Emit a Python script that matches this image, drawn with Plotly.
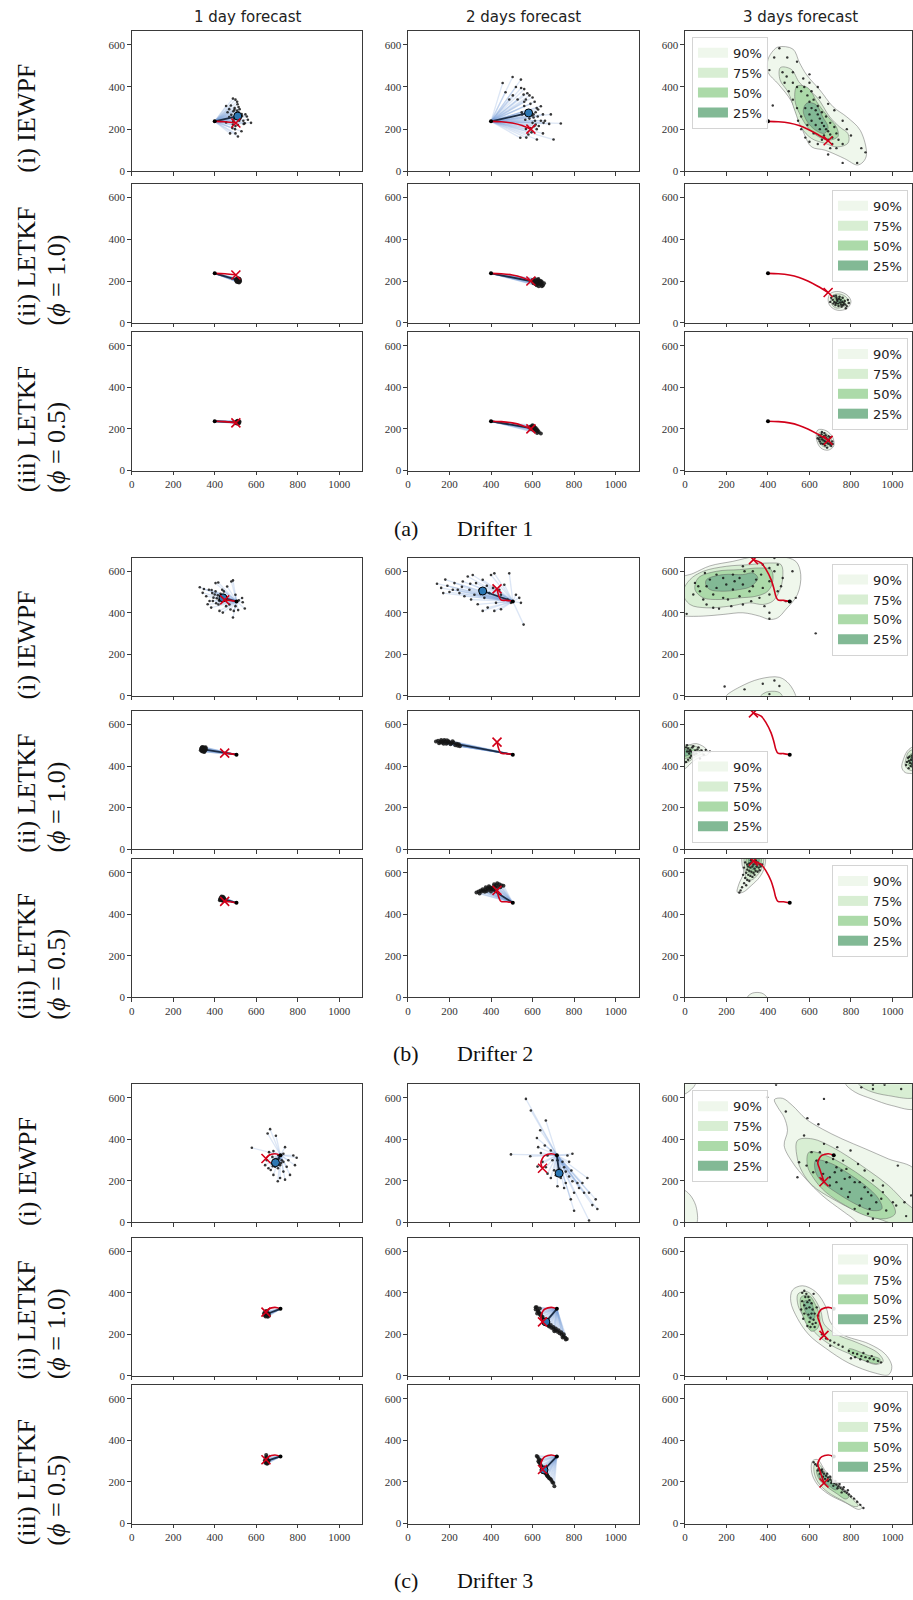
import plotly.graph_objects as go

W, H = 913, 1600

# ---------------- text ----------------
COL_TITLES = ["1 day forecast", "2 days forecast", "3 days forecast"]
ROW_LABELS = [("(i) IEWPF", None),
              ("(ii) LETKF", "(<i>ϕ</i> = 1.0)"),
              ("(iii) LETKF", "(<i>ϕ</i> = 0.5)")]
GROUP_TAGS = ["(a)", "(b)", "(c)"]
GROUP_NAMES = ["Drifter 1", "Drifter 2", "Drifter 3"]
LEVELS = ["90%", "75%", "50%", "25%"]
LEVEL_COLORS = ["#eff7ec", "#d8eed3", "#acdaa9", "#82b995"]
X_TICKS = [0, 200, 400, 600, 800, 1000]
Y_TICKS = [0, 200, 400, 600]

# ---------------- drifter 1 ----------------
D1_START = (400, 237)
D1_TRUTH = [(400, 237), (450, 235), (502, 229), (550, 217), (592, 200), (640, 175), (690, 145)]
D1_TRUTH_DAY_END = [2, 4, 6]

D1_IEWPF_DAY1 = [(488, 345), (500, 340), (508, 330), (478, 312), (455, 310), (470, 295), (520, 295), (462, 280),
                 (490, 285), (505, 278), (530, 272), (548, 270), (555, 260), (560, 245), (518, 240), (490, 238),
                 (540, 225), (488, 222), (500, 215), (512, 220), (545, 228), (485, 205), (498, 200), (455, 232),
                 (470, 258), (496, 300), (515, 305), (510, 318), (525, 255), (532, 262), (503, 265), (493, 250),
                 (515, 280), (538, 240), (480, 268), (508, 288), (522, 248), (500, 180), (529, 190), (474, 180),
                 (512, 165), (575, 230), (506, 258), (520, 268), (495, 292)]
D1_IEWPF_MEAN1 = (511, 262)
D1_IEWPF_DAY2 = [(456, 419), (504, 447), (544, 435), (557, 364), (568, 341), (627, 293), (640, 309), (688, 270),
                 (736, 227), (701, 151), (621, 151), (541, 159), (568, 201), (608, 214), (653, 230), (528, 341),
                 (488, 341), (470, 375), (520, 400), (545, 395), (505, 360), (560, 390), (575, 370), (585, 360),
                 (600, 350), (610, 330), (590, 320), (560, 310), (575, 290), (620, 300), (650, 270), (625, 260),
                 (605, 255), (585, 250), (565, 245), (550, 270), (600, 230), (615, 222), (630, 215), (660, 240),
                 (680, 225), (650, 180), (620, 200), (595, 185), (580, 175), (570, 160), (590, 205), (605, 270),
                 (615, 280), (580, 280), (560, 330), (640, 240), (598, 265), (612, 240), (548, 280)]
D1_IEWPF_MEAN2 = (581, 277)
D1_IEWPF_DAY3 = [(455, 584), (493, 540), (540, 520), (423, 312), (407, 480), (430, 540), (470, 470), (520, 470),
                 (850, 110), (830, 40), (870, 90), (760, 40), (690, 80), (560, 380), (575, 400), (590, 360),
                 (600, 330), (610, 300), (630, 290), (640, 270), (650, 250), (660, 230), (670, 215), (680, 200),
                 (690, 190), (700, 175), (710, 160), (620, 340), (600, 270), (580, 300), (640, 310), (660, 280),
                 (680, 260), (700, 230), (720, 210), (650, 200), (630, 220), (610, 240), (670, 170), (690, 150),
                 (730, 180), (740, 150), (710, 130), (660, 150), (620, 180), (590, 220), (560, 260), (540, 300),
                 (520, 340), (540, 400), (520, 420), (570, 440), (600, 420), (610, 380), (650, 350), (690, 320),
                 (720, 290), (760, 240), (780, 200), (800, 170), (760, 130), (730, 110), (700, 110), (640, 130),
                 (600, 140), (580, 160), (560, 200), (545, 240), (500, 380), (480, 420), (490, 450), (600, 460),
                 (640, 400)]
D1_IEWPF_KDE = [
    [[(450, 590), (520, 580), (552, 515), (586, 458), (650, 386), (714, 306), (780, 258), (845, 194), (875, 80),
      (858, 44), (830, 30), (770, 60), (676, 100), (610, 116), (576, 174), (545, 254), (512, 334), (450, 414),
      (400, 470), (400, 530), (425, 572)]],
    [[(460, 492), (512, 484), (554, 418), (634, 354), (698, 258), (746, 210), (786, 178), (786, 134), (734, 116),
      (676, 132), (610, 156), (562, 206), (530, 286), (498, 374), (458, 434)]],
    [[(540, 404), (592, 396), (640, 322), (690, 258), (730, 210), (738, 166), (694, 148), (644, 164), (594, 206),
      (554, 270), (530, 336)]],
    [[(588, 324), (632, 316), (664, 258), (690, 208), (672, 180), (628, 196), (588, 238), (570, 288)]],
]

D1_LETKF10_DAY1 = [(505, 200), (510, 198), (515, 205), (520, 207), (508, 210), (512, 195), (518, 200), (502, 205),
                   (514, 212), (522, 198), (507, 204), (516, 196), (511, 208), (519, 211), (506, 197), (513, 201),
                   (521, 204), (509, 213), (504, 209), (517, 193)]
D1_LETKF10_MEAN1 = (512, 204)
D1_LETKF10_DAY2 = [(600, 205), (610, 200), (620, 195), (630, 190), (640, 185), (625, 205), (615, 185), (635, 200),
                   (645, 195), (605, 190), (650, 180), (620, 180), (630, 175), (640, 200), (612, 210), (625, 192),
                   (633, 187), (618, 198), (645, 175), (655, 190), (602, 198), (628, 210), (638, 192)]
D1_LETKF10_MEAN2 = (626, 193)
D1_LETKF10_DAY3 = [(705, 120), (712, 110), (720, 100), (728, 95), (735, 105), (742, 115), (750, 110), (758, 100),
                   (765, 95), (772, 88), (780, 80), (760, 120), (745, 125), (730, 120), (718, 128), (725, 85),
                   (740, 80), (755, 78), (770, 105), (785, 110), (700, 100), (738, 92), (748, 98), (762, 85),
                   (732, 112), (752, 88), (715, 92), (775, 70), (790, 95), (728, 130)]
D1_LETKF10_KDE = [
    [[(700, 140), (740, 150), (785, 130), (800, 100), (780, 68), (735, 60), (700, 80), (690, 110)]],
    [[(710, 130), (745, 138), (780, 120), (785, 95), (760, 75), (725, 72), (705, 95)]],
    [[(720, 120), (750, 125), (772, 105), (765, 88), (735, 82), (718, 100)]],
    [[(732, 112), (752, 114), (762, 100), (745, 92), (728, 98)]],
]

D1_LETKF05_DAY1 = [(505, 230), (510, 228), (515, 233), (508, 236), (513, 238), (503, 234), (518, 229), (511, 232),
                   (506, 226), (516, 237), (509, 240), (514, 226), (520, 234), (502, 229), (512, 235)]
D1_LETKF05_MEAN1 = (510, 232)
D1_LETKF05_DAY2 = [(590, 210), (595, 205), (600, 200), (605, 208), (610, 202), (598, 214), (603, 196), (612, 195),
                   (618, 190), (608, 212), (593, 200), (615, 205), (620, 198), (625, 192), (630, 185), (600, 218),
                   (588, 204), (606, 204), (622, 180), (640, 178)]
D1_LETKF05_MEAN2 = (605, 202)
D1_LETKF05_DAY3 = [(645, 170), (652, 160), (660, 150), (668, 145), (675, 140), (682, 135), (690, 130), (698, 125),
                   (705, 118), (658, 175), (670, 165), (680, 158), (688, 150), (695, 142), (665, 128), (650, 140),
                   (640, 155), (700, 160), (710, 140), (675, 120), (685, 110), (660, 185), (672, 180), (655, 130),
                   (692, 165), (678, 170), (646, 150), (702, 132), (712, 128), (663, 160)]
D1_LETKF05_KDE = [
    [[(640, 195), (680, 192), (712, 160), (717, 118), (690, 98), (655, 108), (634, 150)]],
    [[(648, 182), (680, 178), (703, 155), (706, 125), (685, 111), (660, 120), (642, 150)]],
    [[(655, 170), (682, 166), (696, 145), (692, 125), (670, 122), (652, 145)]],
    [[(662, 158), (680, 155), (688, 140), (675, 130), (660, 140)]],
]

# ---------------- drifter 2 ----------------
D2_START = (505, 455)
D2_TRUTH = [(505, 455), (475, 460), (448, 462), (438, 480), (429, 515), (415, 560), (391, 608), (367, 640), (330, 656)]
D2_TRUTH_DAY_END = [2, 4, 8]

D2_IEWPF_DAY1 = [(328, 523), (348, 515), (372, 511), (404, 543), (417, 546), (480, 551), (488, 556), (436, 511),
                 (460, 527), (500, 487), (532, 471), (545, 421), (535, 451), (492, 409), (488, 377), (383, 425),
                 (423, 409), (407, 446), (375, 457), (394, 473), (415, 484), (439, 464), (455, 432), (471, 440),
                 (359, 480), (388, 495), (428, 492), (476, 416), (439, 401), (500, 432), (516, 460), (404, 503),
                 (444, 503), (391, 457), (423, 457), (342, 496), (513, 413), (366, 441), (410, 470), (430, 478),
                 (420, 462), (452, 470), (400, 488), (445, 485), (418, 440), (385, 510)]
D2_IEWPF_MEAN1 = (440, 472)
D2_IEWPF_DAY2 = [(224, 543), (240, 511), (264, 551), (288, 575), (312, 582), (328, 543), (360, 559), (400, 582),
                 (416, 590), (488, 590), (464, 535), (440, 511), (392, 495), (368, 472), (336, 441), (360, 409),
                 (384, 425), (424, 448), (480, 464), (520, 487), (536, 472), (544, 448), (304, 464), (272, 480),
                 (248, 495), (216, 511), (296, 511), (344, 511), (320, 487), (448, 487), (496, 448), (557, 343),
                 (416, 409), (448, 417), (140, 540), (160, 520), (180, 560), (200, 500), (190, 530), (170, 495),
                 (260, 525), (380, 530), (300, 540), (350, 490), (410, 520)]
D2_IEWPF_MEAN2 = (360, 505)
D2_IEWPF_DAY3 = [(8, 395), (48, 544), (96, 592), (120, 560), (72, 504), (88, 464), (136, 424), (164, 420),
                 (207, 464), (152, 520), (199, 536), (239, 552), (287, 600), (327, 600), (367, 584), (407, 616),
                 (447, 632), (431, 664), (471, 568), (463, 528), (407, 488), (383, 432), (407, 400), (359, 472),
                 (311, 504), (263, 480), (184, 472), (231, 512), (279, 536), (327, 528), (263, 568), (343, 560),
                 (375, 520), (136, 488), (104, 528), (64, 528), (184, 568), (231, 584), (152, 584), (407, 552),
                 (447, 504), (534, 472), (486, 456), (407, 371), (431, 600), (518, 600), (279, 440), (319, 456),
                 (223, 432), (104, 440), (40, 488), (279, 624), (375, 632), (191, 45), (287, 31), (375, 58),
                 (431, 74), (455, 47), (407, 8), (630, 301)]
D2_IEWPF_KDE = [
    [[(-30, 390), (-30, 560), (40, 590), (120, 626), (231, 648), (343, 672), (455, 672), (534, 648), (558, 584),
      (542, 488), (486, 416), (447, 376), (407, 368), (359, 384), (279, 400), (184, 392), (88, 384), (0, 384)],
     [(199, -10), (199, 0), (263, 42), (359, 81), (455, 89), (502, 57), (534, 0), (534, -10)]],
    [[(24, 560), (88, 600), (199, 624), (311, 632), (407, 640), (463, 632), (471, 568), (455, 504), (423, 456),
      (375, 440), (311, 448), (215, 432), (104, 424), (24, 440), (-10, 496)],
     [(359, -10), (380, 12), (407, 21), (455, 16), (471, -10)]],
    [[(64, 568), (152, 600), (263, 608), (359, 616), (415, 608), (423, 552), (399, 504), (343, 480), (263, 472),
      (168, 464), (88, 472), (48, 512)]],
    [[(104, 560), (184, 584), (279, 584), (327, 592), (351, 568), (319, 528), (263, 512), (184, 504), (120, 512),
      (100, 536)]],
]

D2_LETKF10_DAY1 = [(335, 485), (340, 478), (345, 490), (350, 482), (355, 475), (338, 472), (348, 470), (342, 486),
                   (352, 488), (336, 480), (344, 476), (358, 482), (340, 492), (350, 468), (346, 484), (333, 476),
                   (356, 490), (341, 470), (349, 478), (337, 488)]
D2_LETKF10_MEAN1 = (345, 480)
D2_LETKF10_DAY2 = [(135, 518), (145, 522), (155, 515), (160, 525), (170, 520), (180, 518), (190, 512), (200, 515),
                   (210, 510), (220, 513), (235, 508), (245, 505), (150, 510), (165, 512), (175, 525), (185, 507),
                   (195, 520), (205, 505), (215, 520), (228, 500), (240, 498), (158, 518), (172, 508), (188, 524),
                   (250, 495)]
D2_LETKF10_MEAN2 = (185, 515)
D2_LETKF10_DAY3 = [(5, 490), (15, 485), (25, 478), (30, 470), (40, 465), (20, 460), (10, 470), (50, 475), (35, 490),
                   (60, 480), (70, 470), (45, 455), (25, 440), (15, 430), (5, 420), (55, 460), (80, 475), (120, 470),
                   (90, 455), (30, 450), (10, 500), (40, 495), (65, 490), (20, 470), (72, 436), (100, 478),
                   (1075, 440), (1080, 425), (1085, 415), (1090, 430), (1095, 410), (1070, 420), (1088, 400),
                   (1098, 395), (1082, 445), (1093, 450), (1066, 405), (1100, 425), (1078, 390), (1096, 440)]
D2_LETKF10_KDE = [
    [[(-20, 500), (0, 497), (56, 508), (104, 481), (112, 457), (72, 444), (32, 417), (8, 393), (-20, 380)],
     [(1120, 495), (1091, 489), (1070, 470), (1053, 433), (1045, 393), (1061, 369), (1091, 364), (1120, 364)]],
    [[(-20, 495), (30, 500), (70, 485), (85, 462), (50, 445), (15, 420), (-20, 410)],
     [(1120, 480), (1080, 470), (1065, 435), (1062, 400), (1085, 380), (1120, 380)]],
    [[(-20, 485), (25, 488), (55, 470), (40, 452), (0, 435), (-20, 430)],
     [(1120, 465), (1085, 455), (1075, 425), (1082, 400), (1120, 398)]],
    [[(-20, 475), (20, 478), (35, 463), (10, 450), (-20, 448)],
     [(1120, 450), (1090, 440), (1088, 420), (1120, 415)]],
]

D2_LETKF05_DAY1 = [(428, 470), (432, 475), (438, 478), (442, 472), (436, 466), (430, 480), (440, 484), (445, 476),
                   (426, 474), (434, 470), (439, 468), (444, 480), (431, 477), (437, 482), (441, 465), (448, 470),
                   (425, 468), (433, 485)]
D2_LETKF05_MEAN1 = (436, 474)
D2_LETKF05_DAY2 = [(330, 505), (345, 500), (355, 510), (365, 515), (375, 520), (385, 525), (395, 530), (405, 528),
                   (415, 535), (425, 540), (440, 545), (450, 540), (460, 538), (380, 512), (390, 518), (400, 522),
                   (410, 520), (420, 530), (435, 530), (370, 508), (360, 520), (350, 515), (400, 510), (415, 545),
                   (430, 550), (445, 530), (390, 535), (375, 530), (340, 510), (420, 515)]
D2_LETKF05_MEAN2 = (400, 522)
D2_LETKF05_DAY3 = [(290, 650), (300, 640), (310, 645), (320, 650), (330, 640), (340, 645), (350, 650), (360, 640),
                   (305, 630), (315, 625), (325, 630), (335, 620), (345, 630), (355, 625), (365, 630), (300, 615),
                   (310, 610), (320, 605), (330, 600), (340, 610), (350, 605), (295, 600), (305, 590), (315, 585),
                   (325, 580), (335, 590), (290, 575), (300, 565), (310, 560), (285, 550), (295, 540), (275, 530),
                   (268, 515), (262, 505), (280, 590), (360, 612), (372, 640), (318, 660), (342, 658), (284, 625)]
D2_LETKF05_KDE = [
    [[(279, 680), (383, 680), (383, 626), (359, 578), (319, 538), (279, 506), (252, 506), (260, 546), (283, 602),
      (275, 640)],
     [(300, -10), (300, 0), (325, 20), (370, 20), (395, 0), (395, -10)]],
    [[(290, 680), (375, 680), (372, 625), (350, 590), (320, 565), (295, 575), (290, 610)]],
    [[(300, 680), (365, 680), (360, 625), (340, 600), (315, 595), (300, 620)]],
    [[(310, 680), (355, 680), (350, 630), (330, 615), (312, 628)]],
]

# ---------------- drifter 3 ----------------
D3_START = (717, 323)
D3_TRUTH = [(717, 323), (690, 330), (660, 322), (647, 307), (640, 285), (648, 260), (660, 225), (670, 195)]
D3_TRUTH_DAY_END = [3, 5, 7]

D3_IEWPF_DAY1 = [(667, 449), (655, 428), (695, 417), (579, 359), (662, 338), (739, 362), (779, 322), (795, 311),
                 (787, 275), (747, 267), (731, 244), (763, 228), (739, 205), (704, 197), (683, 228), (659, 260),
                 (651, 299), (678, 315), (707, 323), (723, 299), (715, 275), (691, 267), (675, 283), (699, 291),
                 (710, 307), (688, 302), (731, 291), (670, 252), (643, 275), (731, 330), (755, 299), (715, 213),
                 (683, 343), (700, 280), (685, 290), (705, 260), (720, 285), (695, 305), (680, 270)]
D3_IEWPF_MEAN1 = (693, 287)
D3_IEWPF_DAY2 = [(568, 595), (592, 539), (664, 491), (637, 444), (621, 406), (496, 327), (589, 318), (627, 362),
                 (659, 370), (688, 346), (640, 334), (672, 322), (648, 291), (624, 268), (664, 265), (696, 299),
                 (720, 299), (744, 291), (768, 322), (792, 330), (776, 291), (760, 244), (787, 249), (736, 213),
                 (760, 189), (792, 197), (816, 189), (840, 189), (864, 213), (824, 165), (800, 142), (752, 165),
                 (784, 110), (848, 142), (872, 142), (904, 110), (888, 82), (912, 63), (800, 55), (872, 8),
                 (704, 250), (712, 226), (688, 213), (728, 258), (752, 265), (776, 220), (720, 173), (672, 234)]
D3_IEWPF_MEAN2 = (728, 236)
D3_IEWPF_DAY3 = [(439, 663), (396, 603), (486, 534), (590, 502), (643, 473), (574, 418), (550, 289), (542, 217),
                 (670, 595), (670, 378), (734, 362), (798, 346), (714, 305), (754, 249), (730, 265), (778, 257),
                 (794, 217), (818, 193), (866, 168), (866, 249), (906, 201), (954, 177), (954, 145), (946, 113),
                 (1002, 96), (1018, 80), (1058, 96), (1066, 29), (1026, 273), (1090, 129), (850, 113), (842, 80),
                 (890, 64), (818, 64), (794, 145), (754, 161), (730, 193), (698, 217), (666, 233), (682, 289),
                 (634, 297), (610, 338), (650, 338), (762, 297), (834, 281), (882, 145), (922, 96), (970, 56),
                 (906, 16), (882, 40), (850, 651), (906, 643), (962, 663), (1042, 643), (906, 663), (722, 241),
                 (770, 209), (842, 193), (898, 129), (786, 121), (698, 177), (658, 209), (618, 241), (586, 273)]
D3_IEWPF_KDE = [
    [[(431, 592), (470, 598), (518, 563), (582, 499), (661, 450), (757, 402), (869, 354), (981, 305), (1110, 250),
      (1110, -10), (850, -10), (800, 25), (757, 56), (661, 129), (582, 209), (518, 289), (478, 370), (494, 442),
      (478, 506), (447, 555)],
     [(774, 690), (774, 667), (821, 627), (901, 595), (997, 563), (1110, 550), (1110, 690)],
     [(-20, 160), (0, 153), (32, 121), (56, 64), (53, -10), (-20, -10)],
     [(-20, 690), (55, 690), (48, 662), (24, 635), (0, 619), (-20, 615)]],
    [[(542, 394), (614, 402), (710, 362), (790, 314), (885, 249), (981, 177), (1061, 96), (1110, 50), (1110, -10),
      (1013, -10), (933, 16), (837, 48), (710, 113), (614, 177), (566, 241), (542, 305)],
     [(837, 690), (837, 667), (885, 635), (981, 611), (1110, 605), (1110, 690)]],
    [[(598, 338), (678, 322), (774, 273), (869, 209), (949, 145), (1005, 80), (1013, 40), (965, 16), (869, 32),
      (774, 80), (678, 145), (622, 209), (590, 273)]],
    [[(630, 298), (710, 281), (790, 233), (869, 177), (933, 113), (949, 64), (901, 56), (821, 88), (726, 145),
      (662, 193), (630, 241)]],
]

D3_LETKF10_DAY1 = [(642, 300), (646, 292), (650, 298), (655, 302), (658, 295), (648, 306), (652, 288), (644, 310),
                   (656, 285), (640, 293), (660, 300), (650, 312), (645, 286), (654, 295), (662, 290), (638, 302)]
D3_LETKF10_MEAN1 = (651, 298)
D3_LETKF10_DAY2 = [(620, 330), (615, 320), (625, 315), (630, 305), (622, 300), (635, 295), (640, 290), (645, 280),
                   (650, 275), (655, 268), (660, 262), (665, 255), (670, 250), (675, 243), (680, 238), (690, 232),
                   (700, 226), (710, 220), (720, 212), (730, 205), (740, 198), (750, 190), (758, 183), (765, 178),
                   (648, 285), (662, 270), (675, 258), (688, 245), (700, 235), (712, 228), (725, 220), (738, 210),
                   (750, 200), (628, 310), (640, 298), (705, 215), (745, 185), (760, 175), (615, 330), (635, 325)]
D3_LETKF10_MEAN2 = (664, 260)
D3_LETKF10_DAY3 = [(565, 400), (575, 410), (585, 395), (595, 380), (600, 365), (610, 350), (590, 355), (575, 340),
                   (585, 325), (600, 330), (615, 320), (625, 300), (610, 300), (595, 295), (605, 280), (620, 270),
                   (630, 255), (615, 250), (600, 260), (590, 240), (575, 300), (565, 360), (580, 380), (620, 395),
                   (635, 330), (640, 290), (560, 320), (605, 235), (625, 235), (570, 275), (660, 200), (680, 180),
                   (700, 170), (720, 160), (740, 150), (700, 145), (760, 140), (790, 120), (810, 110), (830, 105),
                   (850, 95), (870, 90), (890, 85), (910, 80), (930, 72), (820, 90), (860, 110), (880, 70),
                   (900, 95), (845, 80), (945, 65), (800, 85)]
D3_LETKF10_KDE = [
    [[(518, 413), (566, 434), (630, 405), (680, 330), (700, 260), (757, 200), (885, 155), (965, 105), (997, 45),
      (981, 5), (917, 13), (790, 61), (678, 133), (598, 197), (542, 277), (510, 357)]],
    [[(545, 395), (590, 405), (625, 370), (655, 310), (670, 250), (730, 200), (830, 160), (930, 110), (955, 70),
      (920, 55), (820, 95), (700, 150), (625, 210), (575, 280), (545, 340)]],
    [[(560, 380), (600, 385), (630, 340), (650, 280), (640, 230), (610, 215), (580, 260), (560, 320)],
     [(790, 130), (880, 100), (940, 80), (930, 60), (860, 75), (790, 110)]],
    [[(575, 360), (605, 360), (620, 320), (625, 280), (605, 270), (585, 300), (572, 335)]],
]

D3_LETKF05_DAY1 = [(645, 298), (650, 305), (655, 300), (648, 292), (653, 310), (646, 315), (658, 296), (642, 305),
                   (650, 320), (648, 330), (656, 290), (652, 288), (660, 303), (644, 292), (649, 312)]
D3_LETKF05_MEAN1 = (651, 302)
D3_LETKF05_DAY2 = [(625, 320), (630, 310), (628, 300), (635, 290), (640, 280), (645, 270), (650, 262), (655, 255),
                   (660, 248), (665, 240), (670, 232), (675, 225), (680, 218), (690, 210), (700, 195), (705, 180),
                   (632, 295), (642, 275), (652, 258), (662, 245), (672, 228), (685, 215), (638, 305), (648, 268),
                   (658, 250), (668, 236), (620, 325), (695, 200)]
D3_LETKF05_MEAN2 = (655, 258)
D3_LETKF05_DAY3 = [(620, 295), (628, 285), (636, 278), (645, 265), (655, 255), (662, 248), (670, 240), (680, 230),
                   (690, 222), (700, 212), (710, 205), (720, 195), (730, 188), (740, 180), (750, 172), (760, 165),
                   (770, 155), (780, 148), (790, 140), (800, 130), (815, 120), (830, 105), (845, 90), (860, 75),
                   (650, 240), (665, 225), (675, 215), (690, 205), (705, 195), (715, 182), (735, 170), (755, 150),
                   (640, 255), (660, 260), (685, 240), (700, 225), (725, 205), (745, 190), (765, 175), (785, 160)]
D3_LETKF05_KDE = [
    [[(614, 300), (638, 308), (678, 252), (742, 188), (813, 124), (853, 76), (837, 68), (774, 100), (694, 140),
      (638, 188), (611, 244)]],
    [[(625, 285), (645, 285), (680, 240), (740, 180), (805, 120), (835, 85), (815, 82), (760, 110), (690, 150),
      (640, 200), (622, 250)]],
    [[(635, 260), (655, 262), (690, 220), (745, 170), (790, 130), (775, 118), (730, 145), (680, 180), (645, 215)]],
    [[(645, 240), (665, 240), (700, 205), (740, 170), (725, 162), (690, 185), (655, 210)]],
]

# ---------------- assembly tables ----------------
DRIFTERS = [
    dict(start=D1_START, truth=D1_TRUTH, ends=D1_TRUTH_DAY_END),
    dict(start=D2_START, truth=D2_TRUTH, ends=D2_TRUTH_DAY_END),
    dict(start=D3_START, truth=D3_TRUTH, ends=D3_TRUTH_DAY_END),
]
ROWS = [
    (0, True, [D1_IEWPF_DAY1, D1_IEWPF_DAY2, D1_IEWPF_DAY3], [D1_IEWPF_MEAN1, D1_IEWPF_MEAN2], D1_IEWPF_KDE),
    (0, False, [D1_LETKF10_DAY1, D1_LETKF10_DAY2, D1_LETKF10_DAY3], [D1_LETKF10_MEAN1, D1_LETKF10_MEAN2], D1_LETKF10_KDE),
    (0, False, [D1_LETKF05_DAY1, D1_LETKF05_DAY2, D1_LETKF05_DAY3], [D1_LETKF05_MEAN1, D1_LETKF05_MEAN2], D1_LETKF05_KDE),
    (1, True, [D2_IEWPF_DAY1, D2_IEWPF_DAY2, D2_IEWPF_DAY3], [D2_IEWPF_MEAN1, D2_IEWPF_MEAN2], D2_IEWPF_KDE),
    (1, False, [D2_LETKF10_DAY1, D2_LETKF10_DAY2, D2_LETKF10_DAY3], [D2_LETKF10_MEAN1, D2_LETKF10_MEAN2], D2_LETKF10_KDE),
    (1, False, [D2_LETKF05_DAY1, D2_LETKF05_DAY2, D2_LETKF05_DAY3], [D2_LETKF05_MEAN1, D2_LETKF05_MEAN2], D2_LETKF05_KDE),
    (2, True, [D3_IEWPF_DAY1, D3_IEWPF_DAY2, D3_IEWPF_DAY3], [D3_IEWPF_MEAN1, D3_IEWPF_MEAN2], D3_IEWPF_KDE),
    (2, False, [D3_LETKF10_DAY1, D3_LETKF10_DAY2, D3_LETKF10_DAY3], [D3_LETKF10_MEAN1, D3_LETKF10_MEAN2], D3_LETKF10_KDE),
    (2, False, [D3_LETKF05_DAY1, D3_LETKF05_DAY2, D3_LETKF05_DAY3], [D3_LETKF05_MEAN1, D3_LETKF05_MEAN2], D3_LETKF05_KDE),
]

# ---------------- layout geometry (pixels) ----------------
COL_PX = [(129.3, 361.0), (406.7, 638.7), (685.0, 913.0)]
X_MAX = [1112, 1112, 1112 * 228.0 / 231.7]
Y_MAX = 666
ROW_PX = [(31.0, 172.0), (184.5, 324.0), (333.3, 472.3),
          (559.7, 698.4), (713.5, 852.3), (862.3, 1001.0),
          (1088.3, 1226.7), (1242.3, 1381.0), (1390.3, 1529.3)]
LEGEND_CORNER = ["tl", "tr", "tr", "tr", "bl", "tr", "tl", "tr", "tr"]
MEAN_ON_TOP = {(7, 1), (8, 1)}
GROUP_Y = [530, 1057, 1586]

RED = "#d2001a"
NAVY = "#1c2d45"
SPAG = "rgba(120,158,215,0.26)"
DOT = "#151515"
MEAN_FILL = "#2c77b3"
CONTOUR_LINE = "rgba(95,95,95,0.6)"
SERIF = "Liberation Serif, DejaVu Serif, serif"
SANS = "DejaVu Sans, sans-serif"

fig = go.Figure()


def xy(pts):
    return [p[0] for p in pts], [p[1] for p in pts]


for r, (di, is_iewpf, days, means, kde) in enumerate(ROWS):
    drift = DRIFTERS[di]
    sx, sy = drift["start"]
    for c in range(3):
        n = r * 3 + c + 1
        xa = "x" if n == 1 else "x%d" % n
        ya = "y" if n == 1 else "y%d" % n
        ax = dict(xaxis=xa, yaxis=ya)
        pts = days[c]
        px_, py_ = xy(pts)
        if c < 2:
            # ensemble trajectories
            lx, ly = [], []
            for (x, y) in pts:
                lx += [sx, x, None]
                ly += [sy, y, None]
            fig.add_trace(go.Scatter(x=lx, y=ly, mode="lines", line=dict(color=SPAG, width=1.3),
                                     hoverinfo="skip", showlegend=False, **ax))
            mx, my = means[c]
            mean_line = go.Scatter(x=[sx, mx], y=[sy, my], mode="lines", line=dict(color=NAVY, width=1.8),
                                   hoverinfo="skip", showlegend=False, **ax)
            mean_mark = go.Scatter(x=[mx], y=[my], mode="markers",
                                   marker=dict(size=8, color=MEAN_FILL, line=dict(color="black", width=1)),
                                   hoverinfo="skip", showlegend=False, **ax)
            dots = go.Scatter(x=px_, y=py_, mode="markers",
                              marker=dict(size=2.6 if is_iewpf else 4, color=DOT, opacity=0.85, line=dict(width=0)),
                              hoverinfo="skip", showlegend=False, **ax)
            if is_iewpf or (r, c) in MEAN_ON_TOP:
                fig.add_trace(dots)
                fig.add_trace(mean_line)
                fig.add_trace(mean_mark)
            else:
                fig.add_trace(mean_line)
                fig.add_trace(dots)
        else:
            lk = "legend" if r == 0 else "legend%d" % (r + 1)
            for li, rings in enumerate(kde):
                for ring in rings:
                    rx, ry = xy(ring + [ring[0]])
                    fig.add_trace(go.Scatter(x=rx, y=ry, mode="lines", fill="toself",
                                             fillcolor=LEVEL_COLORS[li],
                                             line=dict(color=CONTOUR_LINE, width=0.8, shape="spline", smoothing=1.0),
                                             hoverinfo="skip", showlegend=False, **ax))
            for li, lvl in enumerate(LEVELS):
                fig.add_trace(go.Scatter(x=[None], y=[None], mode="lines", name=lvl,
                                         line=dict(color=LEVEL_COLORS[li], width=10),
                                         legend=lk, showlegend=True, hoverinfo="skip", **ax))
            fig.add_trace(go.Scatter(x=px_, y=py_, mode="markers",
                                     marker=dict(size=2.4, color=DOT, opacity=0.85, line=dict(width=0)),
                                     hoverinfo="skip", showlegend=False, **ax))
        # truth
        end = drift["ends"][c]
        tx, ty = xy(drift["truth"][:end + 1])
        fig.add_trace(go.Scatter(x=tx, y=ty, mode="lines", line=dict(color=RED, width=1.6, shape="spline"),
                                 hoverinfo="skip", showlegend=False, **ax))
        fig.add_trace(go.Scatter(x=[tx[-1]], y=[ty[-1]], mode="markers",
                                 marker=dict(symbol="x-thin", size=9, line=dict(color=RED, width=1.6)),
                                 hoverinfo="skip", showlegend=False, **ax))
        fig.add_trace(go.Scatter(x=[sx], y=[sy], mode="markers", marker=dict(size=4, color="black"),
                                 hoverinfo="skip", showlegend=False, **ax))

        # axes
        x0, x1 = COL_PX[c]
        t0, t1 = ROW_PX[r]
        axis_common = dict(showline=True, linecolor="#3a3a3a", linewidth=1, mirror=True, ticks="outside",
                           ticklen=3.5, tickwidth=1, tickcolor="#3a3a3a", showgrid=False, zeroline=False,
                           tickfont=dict(family=SERIF, size=11, color="#333"), fixedrange=True)
        fig.layout["xaxis" if n == 1 else "xaxis%d" % n] = dict(
            domain=[x0 / W, x1 / W], range=[0, X_MAX[c]], tickvals=X_TICKS,
            showticklabels=(r in (2, 5, 8)), anchor=ya, **axis_common)
        fig.layout["yaxis" if n == 1 else "yaxis%d" % n] = dict(
            domain=[1 - t1 / H, 1 - t0 / H], range=[0, Y_MAX], tickvals=Y_TICKS,
            anchor=xa, **axis_common)

    # legend for the 3-day panel
    t0, t1 = ROW_PX[r]
    corner = LEGEND_CORNER[r]
    lg = dict(bgcolor="rgba(255,255,255,0.85)", bordercolor="#d4d4d4", borderwidth=1,
              font=dict(family=SANS, size=13, color="#222"), tracegroupgap=0, itemwidth=30)
    if corner == "tl":
        lg.update(x=692 / W, y=1 - (t0 + 6) / H, xanchor="left", yanchor="top")
    elif corner == "tr":
        lg.update(x=909 / W, y=1 - (t0 + 6) / H, xanchor="right", yanchor="top")
    else:
        lg.update(x=692 / W, y=1 - (t1 - 6.5) / H, xanchor="left", yanchor="bottom")
    fig.layout["legend" if r == 0 else "legend%d" % (r + 1)] = lg

annotations = []
# column titles
for c, title in enumerate(COL_TITLES):
    cx = (COL_PX[c][0] + COL_PX[c][0] + 231.7) / 2
    annotations.append(dict(text=title, x=cx / W, y=1 - 17 / H, xref="paper", yref="paper",
                            xanchor="center", yanchor="middle", showarrow=False,
                            font=dict(family=SANS, size=15, color="#222")))
# row labels
for r in range(9):
    kind = r % 3
    line1, line2 = ROW_LABELS[kind]
    top = ROW_PX[r][0]
    bottom = top + (163 if kind == 2 else 144)
    annotations.append(dict(text=line1, x=24 / W, y=1 - bottom / H, xref="paper", yref="paper",
                            xanchor="center", yanchor="bottom", textangle=-90, showarrow=False,
                            font=dict(family=SERIF, size=26, color="#111")))
    if line2:
        annotations.append(dict(text=line2, x=54 / W, y=1 - bottom / H, xref="paper", yref="paper",
                                xanchor="center", yanchor="bottom", textangle=-90, showarrow=False,
                                font=dict(family=SERIF, size=26, color="#111")))
# group captions
for g in range(3):
    annotations.append(dict(text=GROUP_TAGS[g], x=405 / W, y=1 - GROUP_Y[g] / H, xref="paper", yref="paper",
                            xanchor="center", yanchor="middle", showarrow=False,
                            font=dict(family=SERIF, size=22, color="#111")))
    annotations.append(dict(text=GROUP_NAMES[g], x=454 / W, y=1 - GROUP_Y[g] / H, xref="paper", yref="paper",
                            xanchor="left", yanchor="middle", showarrow=False,
                            font=dict(family=SERIF, size=22, color="#111")))

fig.update_layout(width=W, height=H, margin=dict(l=0, r=0, t=0, b=0),
                  paper_bgcolor="white", plot_bgcolor="white",
                  annotations=annotations, hovermode=False)

fig.write_html("out.html")
